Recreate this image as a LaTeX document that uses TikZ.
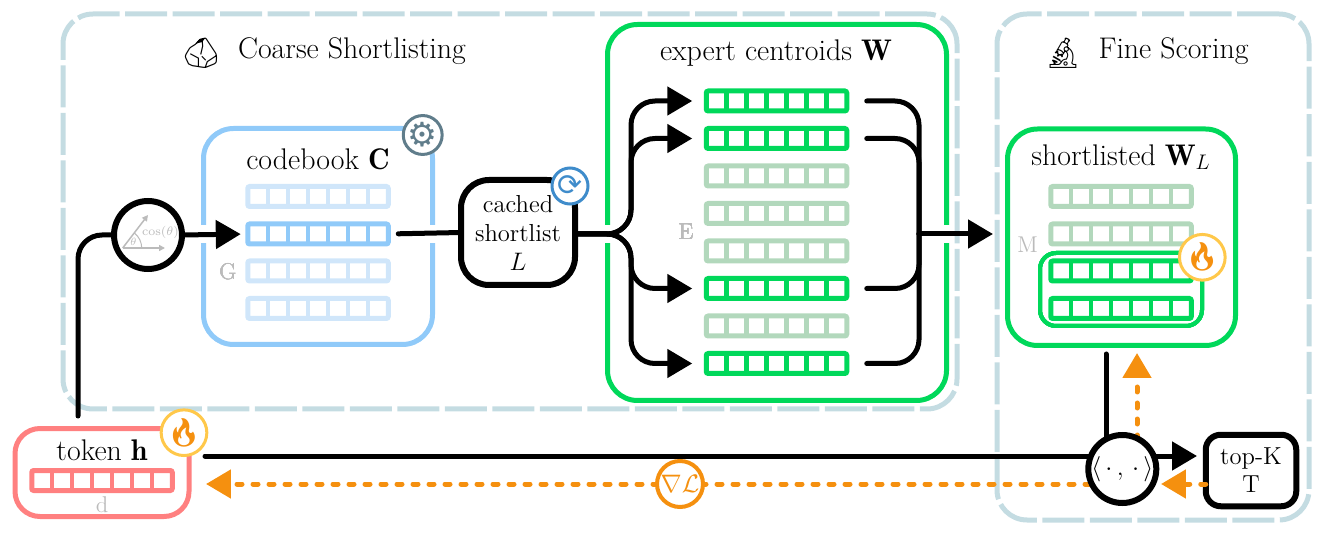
\documentclass[tikz,border=0pt]{standalone}
\usepackage{fontspec}
\usepackage{amsmath}
\usepackage{xcolor}
\usetikzlibrary{arrows.meta}
\newfontfamily\emojifont{Noto Emoji}
\newfontfamily\symbfont{DejaVu Sans}
\newlength{\px}
\setlength{\px}{0.02cm}
\definecolor{groupblue}{HTML}{C4DCE2}
\definecolor{codeblue}{HTML}{90CAF9}
\definecolor{codepale}{HTML}{D0E6FA}
\definecolor{expertgreen}{HTML}{00D85A}
\definecolor{expertpale}{HTML}{B2D8BC}
\definecolor{tokenred}{HTML}{FF8080}
\definecolor{gradorange}{HTML}{F5900F}
\definecolor{fireamber}{HTML}{FFC84A}
\definecolor{gearslate}{HTML}{607D8B}
\definecolor{syncblue}{HTML}{3F8CCB}
\definecolor{dimgray}{HTML}{BBBBBB}
\tikzset{
  groupbox/.style={draw=groupblue, line width=5\px, dash pattern=on 42\px off 5.5\px, rounded corners=30\px, outer sep=0pt, inner sep=0pt},
  panel/.style={line width=5\px, rounded corners=30\px, outer sep=0pt, inner sep=0pt},
  cellrow/.style={line width=5\px, rounded corners=2\px, minimum width=140.5\px, minimum height=20\px, outer sep=0pt, inner sep=0pt},
  blackbox/.style={draw=black, fill=white, line width=6\px, outer sep=0pt, inner sep=0pt, align=center},
  opnode/.style={draw=black, fill=white, circle, line width=6\px, minimum size=68\px, outer sep=0pt, inner sep=0pt},
  badge/.style={circle, fill=white, line width=3\px, minimum size=36\px, outer sep=0pt, inner sep=0pt},
  title/.style={font=\fontsize{17}{20}\selectfont, inner sep=0pt},
  dimlabel/.style={text=dimgray, font=\fontsize{13}{15}\selectfont, inner sep=0pt},
  flow/.style={draw=black, line width=5\px, line cap=round, rounded corners=24\px},
  flowtip/.style={-{Triangle[length=14.2pt,width=15.9pt]}},
  gradflow/.style={draw=gradorange, line width=5\px, line cap=round, dash pattern=on 5\px off 11\px, -{Triangle[length=14.2pt,width=15.9pt]}},
}
\newcommand{\cellbar}[4]{%
  \node[cellrow, draw=#4] (#1) at (#2,#3) {};
  \foreach \k in {1,...,6}
    \draw[#4, line width=4.5\px] (#2-70.25+\k*20.07,#3-10) -- (#2-70.25+\k*20.07,#3+10);
}
\begin{document}
\begin{tikzpicture}[x=0.02cm,y=-0.02cm]
\useasboundingbox (0,0) rectangle (1324,536);

% groups
\node[groupbox, minimum width=894\px, minimum height=395\px] (coarse) at (510,211.5) {};
\node[groupbox, minimum width=312\px, minimum height=506\px] (fine) at (1153,267) {};
\node[title] (coarsetitle) at (352,51) {Coarse Shortlisting};
\node[title] (rock) at (201,53) {\emojifont\fontsize{17}{20}\selectfont 🪨};
\node[title] (finetitle) at (1173.5,51) {Fine Scoring};
\node[title] (scope) at (1063,53) {\emojifont\fontsize{17}{20}\selectfont 🔬};

% codebook
\node[panel, draw=codeblue, minimum width=229\px, minimum height=216\px] (codebook) at (318,236.5) {};
\node[title] (codebooktitle) at (318,159) {codebook $\mathbf{C}$};
\foreach \i/\yy/\cc in {1/196.5/codepale,2/234/codeblue,3/271/codepale,4/308.5/codepale}
  \cellbar{c\i}{318}{\yy}{\cc}
\node[dimlabel] (glabel) at (228,272) {G};

% expert centroids
\node[panel, draw=expertgreen, minimum width=339\px, minimum height=376\px] (expert) at (777,212.5) {};
\node[title] (experttitle) at (776,53) {expert centroids $\mathbf{W}$};
\foreach \i/\yy/\cc in {1/101/expertgreen,2/138.5/expertgreen,3/176/expertpale,4/213.5/expertpale,5/251/expertpale,6/288.5/expertgreen,7/326/expertpale,8/363.5/expertgreen}
  \cellbar{e\i}{776.5}{\yy}{\cc}
\node[dimlabel] (elabel) at (686,232) {E};

% shortlisted
\node[panel, draw=expertgreen, minimum width=228\px, minimum height=216.5\px] (shortbox) at (1121.5,237.25) {};
\node[title] (shorttitle) at (1121,157) {shortlisted $\mathbf{W}_L$};
\foreach \i/\yy/\cc in {1/196.5/expertpale,2/234/expertpale,3/271/expertgreen,4/308.5/expertgreen}
  \cellbar{s\i}{1121}{\yy}{\cc}
\node[panel, draw=expertgreen, line width=4\px, rounded corners=16\px, minimum width=162\px, minimum height=73\px] (picked) at (1121,289.5) {};
\node[dimlabel] (mlabel) at (1027.5,245) {M};

% white gaps where lines cross the panels
\foreach \x in {203.5,432.5,607.5,946.5}
  \fill[white] (\x-5,225) rectangle (\x+5,243);

% token
\node[panel, draw=tokenred, rounded corners=25\px, minimum width=174\px, minimum height=88\px] (token) at (102,472.5) {};
\node[title] (tokentitle) at (102,450) {token $\mathbf{h}$};
\cellbar{h}{102}{480.5}{tokenred}
\node[dimlabel] (dlabel) at (102,505) {d};

% operators and boxes
\node[opnode] (cosine) at (148,235) {};
\draw[dimgray, line width=1.5\px, -{Triangle[length=3.4pt,width=3.4pt]}] (122.7,248) -- (165,248);
\draw[dimgray, line width=1.5\px, -{Triangle[length=3.4pt,width=3.4pt]}] (122.7,248) -- (148,215);
\draw[dimgray, line width=1\px] (141.7,248) arc (0:-52:19);
\node[text=dimgray, font=\fontsize{6}{7}\selectfont, inner sep=0pt] (thetalabel) at (133.5,242) {$\theta$};
\node[text=dimgray, font=\fontsize{7}{8}\selectfont, inner sep=0pt] (coslabel) at (160.5,232) {$\cos(\theta)$};

\node[blackbox, rounded corners=28\px, minimum width=114\px, minimum height=105\px, font=\fontsize{14}{16.5}\selectfont] (cached) at (518,232.5) {cached\\shortlist\\$L$};
\node[blackbox, rounded corners=15\px, minimum width=90.5\px, minimum height=71.5\px, font=\fontsize{14}{16}\selectfont] (topk) at (1251,470.5) {top-K\\T};

% connectors
\coordinate (tokenout) at (78,416);
\coordinate (forkx) at (631,234);
\coordinate (mergein) at (919,234);
\coordinate (mergeout) at (993,234);
\coordinate (shortout) at (1106,354);
\coordinate (scorein) at (1106,440);
\coordinate (tokenright) at (205,456);
\coordinate (scoreright) at (1197,456);
\coordinate (gradleft) at (206,484);
\coordinate (gradup) at (1137,353);
\coordinate (gradupin) at (1137,440);
\coordinate (gradmid) at (1090,484);
\coordinate (topkleft) at (1161,484);

\draw[flow] (tokenout) |- (cosine.west);
\draw[flow, flowtip, shorten >=7\px] (cosine.east) -- (c2.west);
\draw[flow, shorten <=10\px] (c2.east) -- (cached.west);
\foreach \n in {e1,e2,e6,e8}
  \draw[flow, flowtip, shorten >=14\px] (cached.east |- forkx) -- (forkx) |- (\n.west);
\foreach \n in {e1,e2,e6,e8}
  \draw[flow, shorten <=20\px] (\n.east) -| (mergein);
\draw[flow, flowtip] (mergein) -- (mergeout);
\draw[flow] (shortout) -- (scorein);
\draw[flow, flowtip] (tokenright) -- (scoreright);
\draw[gradflow] (gradmid) -- (gradleft);
\draw[gradflow] (gradupin) -- (gradup);
\draw[gradflow] (topk.west |- topkleft) -- (topkleft);

\node[opnode] (score) at (1122.3,469) {\fontsize{14}{16}\selectfont$\langle\,\cdot\,,\,\cdot\,\rangle$};
\node[circle, draw=gradorange, fill=white, line width=4\px, minimum size=46\px, inner sep=0pt, text=gradorange, font=\fontsize{14}{16}\selectfont] (gradnode) at (680,484) {$\nabla\mathcal{L}$};

% badges
\node[badge, draw=gearslate, text=gearslate, font=\symbfont\fontsize{19}{20}\selectfont] (gear) at (422.7,135) {⚙};
\node[badge, draw=syncblue, text=syncblue, font=\symbfont\fontsize{17}{20}\selectfont] (sync) at (570,186) {⟳};
\foreach \n/\x/\y in {firetoken/184/432.7,fireshort/1202.3/257.3}
  \node[badge, draw=fireamber, text=gradorange, font=\emojifont\fontsize{16}{18}\selectfont] (\n) at (\x,\y) {🔥};
\end{tikzpicture}
\end{document}
